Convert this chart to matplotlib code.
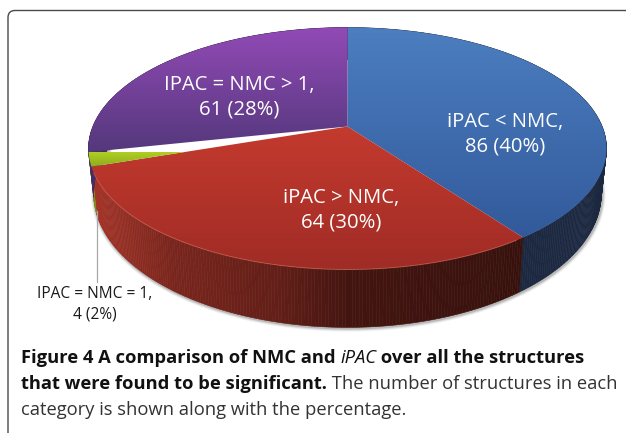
import matplotlib
matplotlib.use('Agg')
import matplotlib.pyplot as plt
import numpy as np
from matplotlib.collections import PolyCollection
from matplotlib.patches import FancyBboxPatch, Polygon

# structure counts, clockwise from 12 o'clock
categories = ['iPAC < NMC', 'iPAC > NMC', 'IPAC = NMC = 1', 'IPAC = NMC > 1']
counts = [86, 64, 4, 61]
percent_labels = ['40%', '30%', '2%', '28%']

top_colors = [((76, 126, 192), (50, 90, 155)),
              ((196, 58, 46), (160, 44, 38)),
              ((176, 206, 34), (140, 172, 30)),
              ((146, 74, 182), (84, 56, 124))]
wall_colors = [(27, 40, 64), (168, 52, 40), (130, 140, 30), (70, 45, 100)]

# pie geometry in image pixels
APEX_X, APEX_Y = 347.5, 126.5
PERSP = 0.1818
SCALE_X, SCALE_Y = 254.7, 117.0


def project(theta):
    # clockwise angle from the top of the disc -> perspective offset from apex
    x, y = np.sin(theta), np.cos(theta)
    w = 1 + PERSP * y
    return SCALE_X * x / w, SCALE_Y * y / w


def top_edge(theta):
    dx, dy = project(theta)
    return APEX_X + dx, APEX_Y - dy


def low_edge(theta):
    dx, dy = project(theta)
    return APEX_X + 0.98 * dx, APEX_Y - (1.107 * dy - 42.6)


fig = plt.figure(figsize=(6.26, 4.33), dpi=100)
ax = fig.add_axes([0, 0, 1, 1])
ax.axis('off')

# frame running off the right and bottom of the page
frame = FancyBboxPatch((8, 10.5), 680, 500, boxstyle='round,pad=0,rounding_size=7',
                       fc='white', ec='#4a4a4a', lw=1.0, zorder=0)
ax.add_patch(frame)

fractions = np.cumsum([0] + counts) / sum(counts)
angles = 2 * np.pi * fractions

# soft shadow under the lower edge
t = np.linspace(np.radians(60), np.radians(285), 300)
sx, sy = low_edge(t)
for lw, a in [(5, 0.08), (3.5, 0.14), (2, 0.25)]:
    ax.plot(sx + 0.8, sy + 0.8, color='#555555', lw=lw, alpha=a, zorder=1,
            solid_capstyle='round')

# side wall, darker towards the right
shade_x = [90, 105, 170, 280, 350, 520, 610]
shade_v = [1.0, 0.93, 0.72, 0.58, 0.40, 0.33, 0.33]
polys, cols = [], []
for i in range(len(counts)):
    steps = max(int((angles[i + 1] - angles[i]) * 90), 4)
    t = np.linspace(angles[i], angles[i + 1], steps + 1)
    tx, ty = top_edge(t)
    lx, ly = low_edge(t)
    for j in range(steps):
        polys.append([(tx[j], ty[j]), (tx[j + 1], ty[j + 1]), (lx[j + 1], ly[j + 1]), (lx[j], ly[j])])
        if i == 0:
            cols.append(np.array(wall_colors[i]) / 255)
        else:
            v = np.interp((tx[j] + tx[j + 1]) / 2, shade_x, shade_v)
            cols.append(np.array(wall_colors[i]) / 255 * v)
ax.add_collection(PolyCollection(polys, facecolors=cols, edgecolors=cols, linewidths=0.4, zorder=2))

# top faces with a vertical gradient, clipped to each slice
for i in range(len(counts)):
    t = np.linspace(angles[i], angles[i + 1], 200)
    tx, ty = top_edge(t)
    pts = np.column_stack([np.r_[APEX_X, tx], np.r_[APEX_Y, ty]])
    patch = Polygon(pts, closed=True, fc='none', ec='none', zorder=3)
    ax.add_patch(patch)
    y0, y1 = ty.min(), ty.max()
    if i != 2:
        y0 = min(y0, APEX_Y)
    c0, c1 = np.array(top_colors[i]) / 255, np.array(top_colors[i][1]) / 255
    c0 = np.array(top_colors[i][0]) / 255
    ramp = np.linspace(0, 1, 128)[:, None, None]
    grad = c0[None, None, :] * (1 - ramp) + c1[None, None, :] * ramp
    im = ax.imshow(grad, extent=(0, 626, y1, y0), aspect='auto', zorder=3,
                   interpolation='bilinear')
    im.set_clip_path(patch)

# light rim on the front of the red slice
t = np.linspace(angles[1] + 0.03, angles[2] - 0.05, 100)
rx, ry = top_edge(t)
ax.plot(rx, ry, color='#d86a58', lw=0.7, alpha=0.6, zorder=4)

ax.set_xlim(0, 626)
ax.set_ylim(433, 0)

# leader line for the small slice
ax.plot([97.3, 97.3], [211, 282], color='#a8a8a8', lw=0.9, zorder=5)

FONT = 'Open Sans'
white_spots = [(505, 134), (341, 210), None, (239, 97)]
for i, spot in enumerate(white_spots):
    if spot is None:
        continue
    ax.text(spot[0], spot[1], f'{categories[i]}{" >" if False else ""},\n{counts[i]} ({percent_labels[i]})',
            color='white', fontsize=14.6, family=FONT, ha='center', va='center',
            linespacing=1.3, zorder=6)
ax.text(95, 304, f'{categories[2]},\n{counts[2]} ({percent_labels[2]})', color='#1a1a1a',
        fontsize=11.2, family=FONT, ha='center', va='center', linespacing=1.35, zorder=6)

# caption: mixed weights on one line, so place the pieces one after another
caption = [
    (21, 363, [('Figure 4 A comparison of NMC and ', 'bold', 'normal', '#111111'),
               ('iPAC', 'normal', 'italic', '#111111'),
               (' over all the structures', 'bold', 'normal', '#111111')]),
    (21, 389, [('that were found to be significant.', 'bold', 'normal', '#111111'),
               (' The number of structures in each', 'normal', 'normal', '#333333')]),
    (21, 415, [('category is shown along with the percentage.', 'normal', 'normal', '#333333')]),
]
renderer = fig.canvas.get_renderer()
for x0, y0, parts in caption:
    x = x0
    for s, weight, style, col in parts:
        txt = ax.text(x, y0, s.replace(' ', '\u00a0'), fontsize=13.2, family=FONT, fontweight=weight,
                      fontstyle=style, color=col, ha='left', va='baseline', zorder=6)
        x = txt.get_window_extent(renderer).x1

fig.savefig('out.png', dpi=100)
